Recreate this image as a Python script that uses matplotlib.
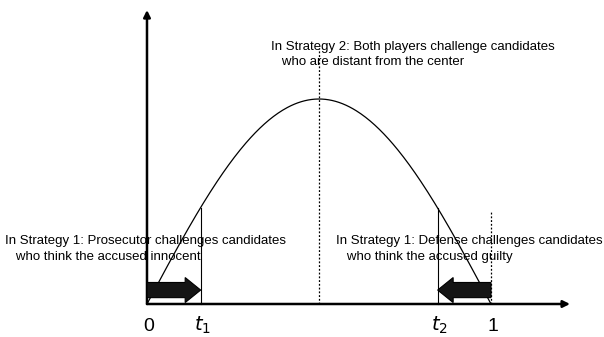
import numpy as np
import matplotlib
matplotlib.use("Agg")
import matplotlib.pyplot as plt
from matplotlib.patches import Polygon

# ---- data ----
x_domain = [0.0, 1.0]
t1 = 0.156
t2 = 0.845
center = 0.5
tick_positions = [0.0, t1, t2, 1.0]
tick_labels = ["0", r"$t_1$", r"$t_2$", "1"]
label_s2 = "In Strategy 2: Both players challenge candidates\n   who are distant from the center"
label_pros = "In Strategy 1: Prosecutor challenges candidates\n   who think the accused innocent"
label_def = "In Strategy 1: Defense challenges candidates\n   who think the accused guilty"

plt.rcParams['font.family'] = ['Liberation Sans', 'DejaVu Sans']

fig = plt.figure(figsize=(6.04, 3.37), dpi=100)
ax = fig.add_axes([0, 0, 1, 1])
ax.set_xlim(-0.4273, 1.3285)
ax.set_ylim(-0.161, 1.483)
ax.axis('off')

# density curve
xs = np.linspace(x_domain[0], x_domain[1], 300)
ys = np.sin(np.pi * xs)
ax.plot(xs, ys, color='black', lw=0.9)

# axes arrows
ax.annotate('', xy=(0, 1.434), xytext=(0, 0),
            arrowprops=dict(arrowstyle='-|>', color='black', lw=1.8,
                            mutation_scale=10, shrinkA=0, shrinkB=0))
ax.annotate('', xy=(1.2297, 0), xytext=(0, 0),
            arrowprops=dict(arrowstyle='-|>', color='black', lw=1.8,
                            mutation_scale=10, shrinkA=0, shrinkB=0))

# vertical lines
ax.plot([t1, t1], [0, np.sin(np.pi * t1)], color='black', lw=0.8)
ax.plot([t2, t2], [0, np.sin(np.pi * t2)], color='black', lw=0.8)
ax.plot([1.0, 1.0], [0, 0.449], color='black', lw=0.9, ls=(0, (1.5, 1.5)))
ax.plot([center, center], [0, 1.249], color='black', lw=0.9, ls=(0, (1.5, 1.5)))

# fat arrows
def fat_arrow(x0, x1, yc=0.068, bh=0.037, hh=0.061, hl=0.045):
    d = np.sign(x1 - x0)
    xh = x1 - d * hl
    pts = [(x0, yc - bh), (xh, yc - bh), (xh, yc - hh), (x1, yc),
           (xh, yc + hh), (xh, yc + bh), (x0, yc + bh)]
    ax.add_patch(Polygon(pts, closed=True, facecolor='#151515',
                         edgecolor='black', lw=0.8, zorder=3))

fat_arrow(0.0, t1)
fat_arrow(1.0, t2)

# annotations
fs = 9.5
ax.text(0.3605, 1.217, label_s2, fontsize=fs, ha='left', va='center', linespacing=1.3)
ax.text(-0.413, 0.268, label_pros, fontsize=fs, ha='left', va='center', linespacing=1.35)
ax.text(0.550, 0.268, label_def, fontsize=fs, ha='left', va='center', linespacing=1.35)

# tick labels
for xp, lab in zip(tick_positions, tick_labels):
    ax.text(xp + 0.005, -0.132, lab, fontsize=14, ha='center', va='baseline',
            fontstyle='italic' if 't' in lab else 'normal')

fig.savefig('out.png', dpi=100)
